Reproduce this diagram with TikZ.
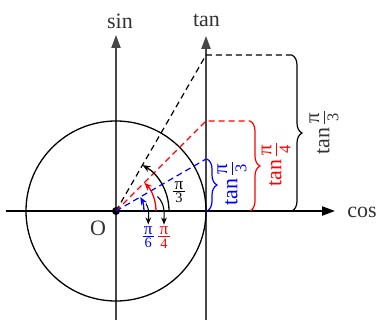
\documentclass[tikz,border=0pt]{standalone}
\usepackage{fontspec}
\setmainfont{Liberation Serif}
\usetikzlibrary{arrows.meta,decorations.pathreplacing}
% #1 pi size, #2 digit size, #3 denominator, #4 kern above bar, #5 kern below bar
\newcommand{\fracpi}[5]{\ensuremath{\vcenter{\offinterlineskip
  \halign{\hfil\kern0.6pt##\kern0.6pt\hfil\cr \fontsize{#1}{#1}\selectfont π\cr
  \noalign{\kern#4\hrule height 0.45pt\kern#5}\fontsize{#2}{#2}\selectfont #3\cr}}}}
\newcommand{\bigpi}[1]{\fracpi{10.5pt}{8.2pt}{#1}{2.2pt}{1.4pt}}
\newcommand{\smallpi}[1]{\fracpi{8.6pt}{7.2pt}{#1}{0.6pt}{0.7pt}}
\definecolor{ink}{HTML}{333333}
\begin{document}
\begin{tikzpicture}[x=0.5pt,y=0.5pt,
  axisx/.style={line width=0.75pt,black,-{Triangle[length=6.5pt,width=4.6pt]}},
  axisy/.style={line width=0.75pt,ink!90,-{Triangle[length=6.5pt,width=4.6pt]}},
  lbl/.style={font=\fontsize{11}{13}\selectfont,text=ink,inner sep=0pt},
  small/.style={inner sep=0pt},
  dsh/.style={line width=0.6pt,dash pattern=on 3pt off 2pt},
  arcarrow/.style={line width=0.65pt,-{Stealth[length=4pt,width=3.2pt]}},
  pointer/.style={line width=0.55pt,black,-{Stealth[length=3.5pt,width=2.8pt]}},
  brc/.style={line width=0.6pt,decorate,decoration={brace,amplitude=5pt}},
  tanlbl/.style={font=\fontsize{11}{13}\selectfont,inner sep=0pt,rotate=90}]
\useasboundingbox (-116,-109) rectangle (262,211);
% axes
\coordinate (xs) at (-110,0);
\coordinate (xe) at (219,0);
\coordinate (ys) at (0,-109);
\coordinate (ye) at (0,176);
\coordinate (ts) at (90,-109);
\coordinate (te) at (90,175);
\draw[axisx] (xs) -- (xe);
\draw[axisy] (ys) -- (ye);
\draw[axisy] (ts) -- (te);
\node[lbl] (cos) at (246,-1) {cos};
\node[lbl] (sin) at (4,190) {sin};
\node[lbl] (tan) at (90.5,191) {tan};
% unit circle
\coordinate (O) at (0,0);
\draw[line width=0.65pt] (O) circle[radius=90];
\fill (O) circle[radius=4];
\node[lbl] (Olab) at (-18,-17) {O};
% tangent points
\coordinate (T3) at (90,155.9);
\coordinate (T4) at (90,90);
\coordinate (T6) at (90,51.96);
\coordinate (B3t) at (176,155.9);
\coordinate (B3b) at (176,0);
\coordinate (B4t) at (134,90);
\coordinate (B4b) at (134,0);
\coordinate (B6t) at (91,51.96);
\coordinate (B6b) at (91,0);
% dashed rays
\draw[dsh,black] (O) -- (T3) -- (B3t);
\draw[dsh,red] (O) -- (T4) -- (B4t);
\draw[dsh,blue] (O) -- (T6);
% braces
\draw[brc,black] (B3t) -- (B3b);
\draw[brc,red] (B4t) -- (B4b);
\draw[brc,blue] (B6t) -- (B6b);
\node[tanlbl,text=ink] (l3) at (208,78) {tan\,\bigpi{3}};
\node[tanlbl,text=red] (l4) at (160,46) {tan\,\bigpi{4}};
\node[tanlbl,text=blue] (l6) at (116,27) {tan\,\bigpi{3}};
% angle arcs
\draw[arcarrow,black] (53,0) arc[start angle=0,end angle=60,radius=53];
\draw[arcarrow,red] (40,0) arc[start angle=0,end angle=45,radius=40];
\draw[arcarrow,blue] (28,0) arc[start angle=0,end angle=30,radius=28];
% small labels
\node[small,text=black] (a3) at (63,19) {\smallpi{3}};
\node[small,text=blue] (a6) at (32.3,-26.5) {\smallpi{6}};
\node[small,text=red] (a4) at (48,-26.5) {\smallpi{4}};
\coordinate (p4s) at (41.5,14.5);
\coordinate (p6s) at (30,7.5);
\draw[pointer] (p4s) to[out=-45,in=90] ([yshift=1pt]a4.north);
\draw[pointer] (p6s) to[out=-60,in=90] ([yshift=1pt]a6.north);
\end{tikzpicture}
\end{document}
